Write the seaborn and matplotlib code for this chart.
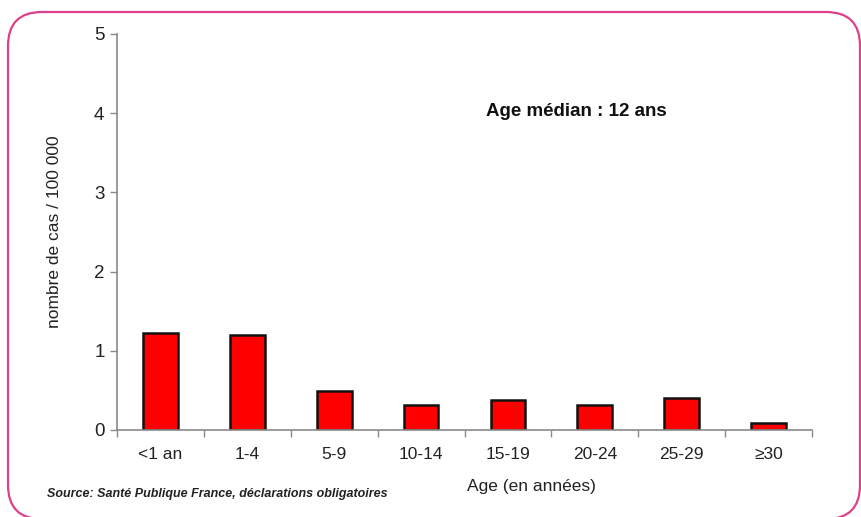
import matplotlib
matplotlib.use("Agg")
import matplotlib.pyplot as plt
import seaborn as sns
import pandas as pd
from matplotlib.patches import FancyBboxPatch
from matplotlib.transforms import IdentityTransform

categories = ["<1 an", "1-4", "5-9", "10-14", "15-19", "20-24", "25-29", "≥30"]
values = [1.22, 1.20, 0.49, 0.32, 0.38, 0.31, 0.41, 0.09]
y_ticks = [0, 1, 2, 3, 4, 5]

sns.set_theme(style="white")
plt.rcParams["font.family"] = ["Liberation Sans", "DejaVu Sans"]

W, H = 861, 517
fig = plt.figure(figsize=(W / 100, H / 100), dpi=100)
fig.patch.set_facecolor("white")
ax = fig.add_axes([117 / W, 1 - 430 / H, (812 - 117) / W, (430 - 34) / H])

df = pd.DataFrame({"cat": categories, "val": values})
sns.barplot(data=df, x="cat", y="val", color="#ff0000", edgecolor="#111111",
            linewidth=1.8, width=0.4, saturation=1, ax=ax)

ax.set_xlim(-0.5, len(categories) - 0.5)
ax.set_ylim(0, 5)
ax.set_yticks(y_ticks)
ax.set_yticklabels([str(t) for t in y_ticks])

for s in ["top", "right"]:
    ax.spines[s].set_visible(False)
for s in ["left", "bottom"]:
    ax.spines[s].set_color("#8a8a8a")
    ax.spines[s].set_linewidth(1.2)

ax.tick_params(axis="y", which="major", direction="out", length=5, width=1,
               color="#8a8a8a", pad=4, labelsize=13.5, labelcolor="#222222", left=True)
ax.set_xticks(range(len(categories)))
ax.set_xticks([i - 0.5 for i in range(len(categories) + 1)], minor=True)
ax.tick_params(axis="x", which="major", length=0, pad=12, labelsize=12.5,
               labelcolor="#222222")
ax.tick_params(axis="x", which="minor", direction="out", length=5, width=1,
               color="#8a8a8a", bottom=True)

ax.set_ylabel("nombre de cas / 100 000", fontsize=12.5, color="#222222")
ax.yaxis.set_label_coords(-0.079, 0.5)
ax.set_xlabel("Age (en années)", fontsize=12.5, color="#222222")
ax.xaxis.set_label_coords(0.596, -0.125)

fig.text(576 / W, 1 - 112 / H, "Age médian : 12 ans", ha="center", va="center",
         fontsize=13.5, fontweight="bold", color="#111111")
fig.text(47 / W, 1 - 494 / H, "Source: Santé Publique France, déclarations obligatoires",
         ha="left", va="center", fontsize=9, fontweight="bold", fontstyle="italic",
         color="#222222", family=["Liberation Sans Narrow", "Liberation Sans", "DejaVu Sans"])

border = FancyBboxPatch((8, -2), 852, 507, boxstyle="round,pad=0,rounding_size=34",
                        transform=IdentityTransform(), fill=False,
                        edgecolor="#e0408a", linewidth=1.6)
fig.patches.append(border)

fig.savefig("out.png", dpi=100)
